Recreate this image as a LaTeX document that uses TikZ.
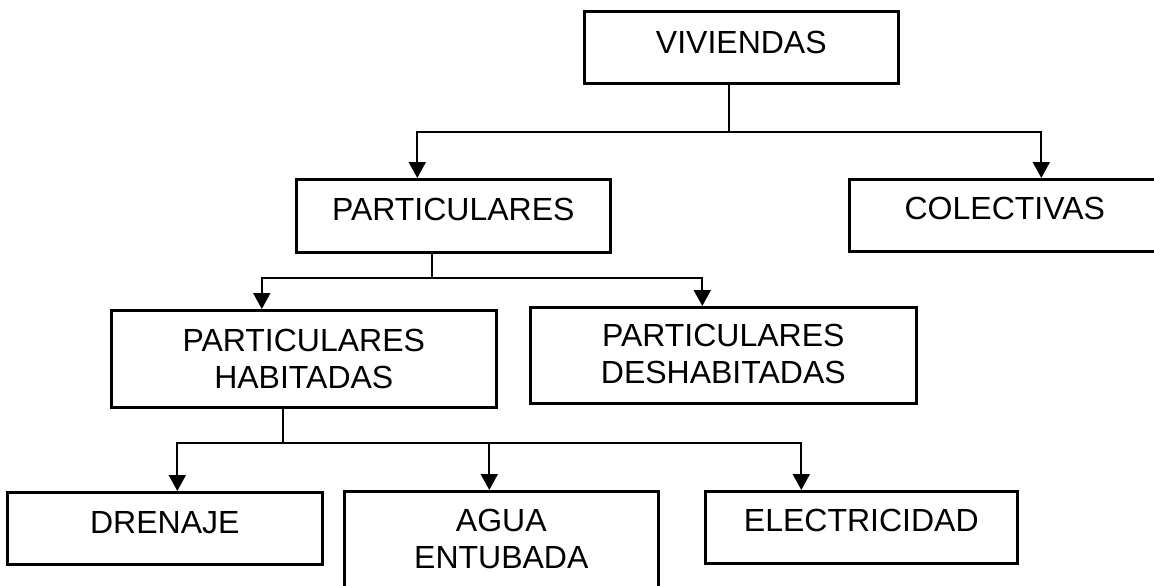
\documentclass[tikz,border=0pt]{standalone}
\usepackage{fontspec}
\setmainfont{Liberation Sans}
\usetikzlibrary{arrows.meta}

\begin{document}
\begin{tikzpicture}[x=1pt,y=-1pt,
caja/.style={draw,line width=2.6pt,inner sep=0pt,anchor=north west,align=center,font=\fontsize{32}{37}\selectfont},
linea/.style={line width=2pt},
flecha/.style={line width=2pt,-{Triangle[width=17pt,length=16pt]}}]
\useasboundingbox (0,0) rectangle (1154,586);
\node[caja,minimum width=314pt,text height=42pt,text depth=30pt] (viviendas) at (583,10) {VIVIENDAS};
\node[caja,minimum width=314pt,text height=41pt,text depth=32pt] (particulares) at (295,178) {PARTICULARES};
\node[caja,minimum width=311pt,text height=40pt,text depth=32pt] (colectivas) at (848,178) {COLECTIVAS};
\node[caja,minimum width=385pt,text height=78pt,text depth=19pt] (habitadas) at (110,309) {PARTICULARES\\HABITADAS};
\node[caja,minimum width=386pt,text height=76pt,text depth=20pt] (deshabitadas) at (529,306) {PARTICULARES\\DESHABITADAS};
\node[caja,minimum width=315pt,text height=41pt,text depth=31pt] (drenaje) at (6,491) {DRENAJE};
\node[caja,minimum width=314pt,text height=77pt,text depth=32pt] (agua) at (343,490) {AGUA\\ENTUBADA};
\node[caja,minimum width=312pt,text height=40pt,text depth=32pt] (electricidad) at (704,490) {ELECTRICIDAD};
% primer nivel
\coordinate (j1) at (729,132);
\draw[linea] (j1 |- viviendas.south) -- (j1);
\draw[flecha] (j1) -| ([xshift=-36pt]particulares.north);
\draw[flecha] (j1) -| ([xshift=36.5pt]colectivas.north);
% segundo nivel
\coordinate (j2) at (432,278);
\draw[linea] (j2 |- particulares.south) -- (j2);
\draw[flecha] (j2) -| ([xshift=-42pt]habitadas.north);
\draw[flecha] (j2) -| ([xshift=-21pt]deshabitadas.north);
% tercer nivel
\coordinate (j3) at (283,443);
\draw[linea] (j3 |- habitadas.south) -- (j3);
\draw[flecha] (j3) -| ([xshift=12.5pt]drenaje.north);
\draw[flecha] (j3) -| ([xshift=-12pt]agua.north);
\draw[flecha] (j3) -| ([xshift=-60pt]electricidad.north);
\end{tikzpicture}
\end{document}
